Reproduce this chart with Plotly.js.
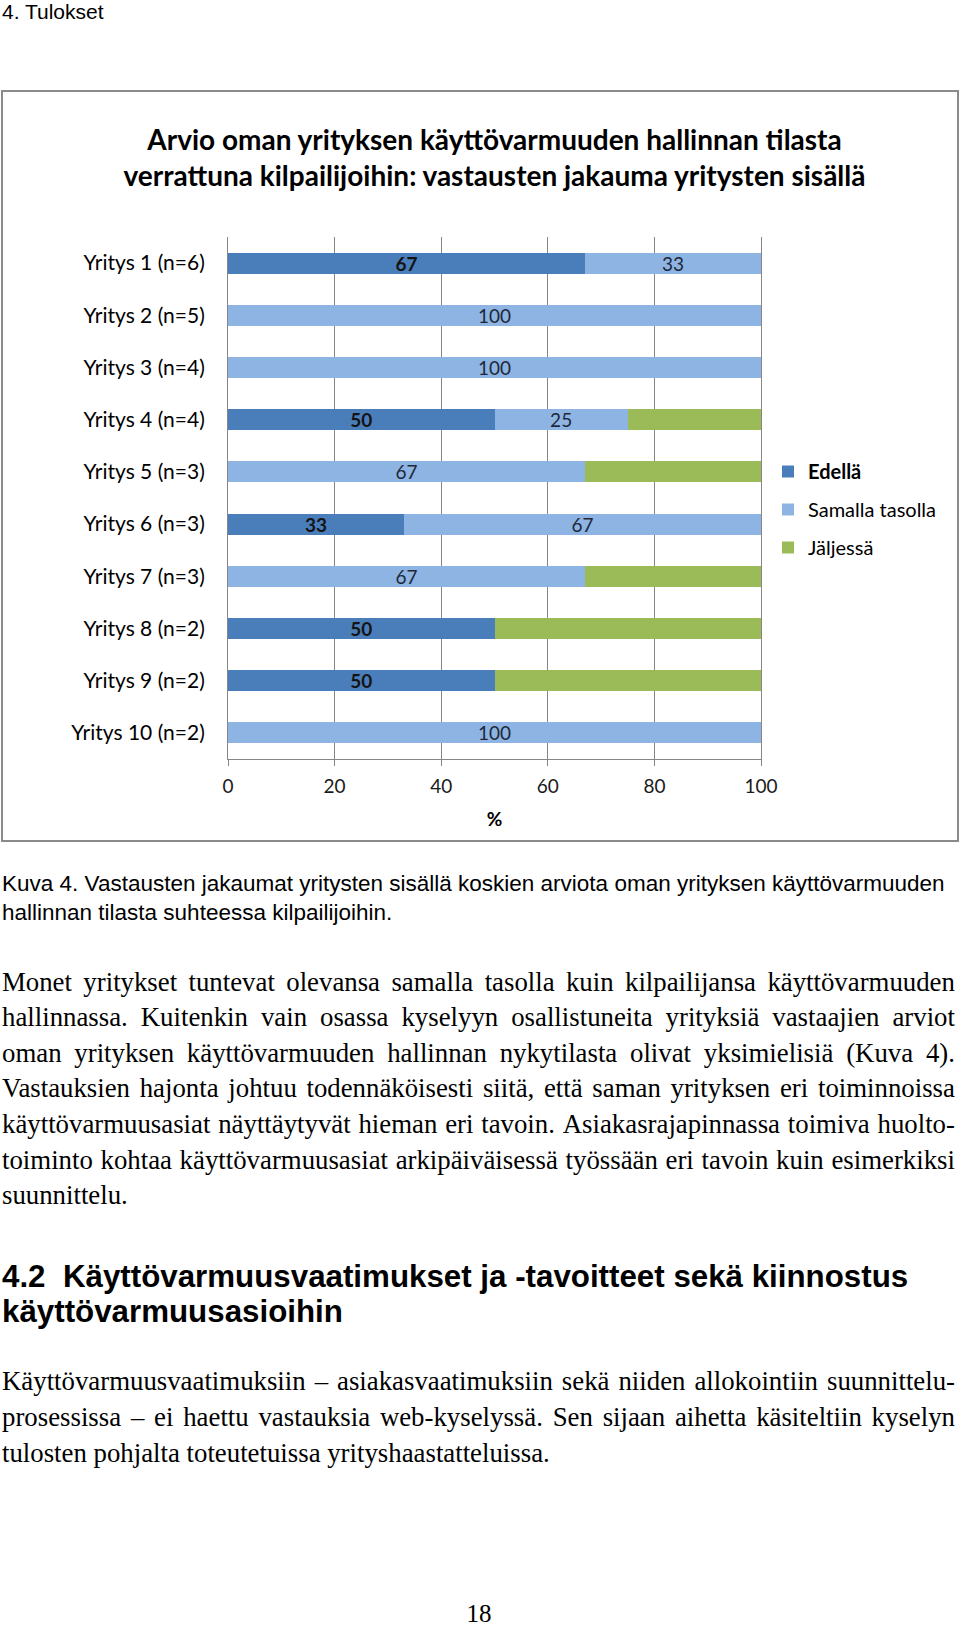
<!DOCTYPE html>
<html>
<head>
<meta charset="utf-8">
<script src="https://cdn.plot.ly/plotly-3.0.1.min.js"></script>
<style>
  html, body { margin: 0; padding: 0; background: #fff; }
  body { width: 960px; height: 1627px; position: relative; overflow: hidden; }
  .abs { position: absolute; white-space: nowrap; color: #000; }
  .sans { font-family: "Liberation Sans", Arial, sans-serif; }
  .serif { font-family: "Liberation Serif", "Times New Roman", serif; }
  .jl { display: flex; justify-content: space-between; width: 953px; }
</style>
</head>
<body>
<div id="chart" style="position:absolute;left:0;top:0;width:960px;height:860px;"></div>
<div id="frame" style="position:absolute;left:1px;top:90px;width:954px;height:748px;border:2px solid #8a8a8a;pointer-events:none;"></div>
<div id="doc"></div>
<script>
// ---- chart data ----
const companies = ['Yritys 1 (n=6)', 'Yritys 2 (n=5)', 'Yritys 3 (n=4)', 'Yritys 4 (n=4)', 'Yritys 5 (n=3)',
                   'Yritys 6 (n=3)', 'Yritys 7 (n=3)', 'Yritys 8 (n=2)', 'Yritys 9 (n=2)', 'Yritys 10 (n=2)'];
const seriesNames = ['Edellä', 'Samalla tasolla', 'Jäljessä'];
const edella   = [67, 0, 0, 50, 0, 33, 0, 50, 50, 0];
const samalla  = [33, 100, 100, 25, 67, 67, 67, 0, 0, 100];
const jaljessa = [0, 0, 0, 25, 33, 0, 33, 50, 50, 0];
const xTicks = [0, 20, 40, 60, 80, 100];
const chartTitle = ['Arvio oman yrityksen käyttövarmuuden hallinnan tilasta',
                    'verrattuna kilpailijoihin: vastausten jakauma yritysten sisällä'];
const xTitle = '%';

// ---- document text ----
const pageHeader = '4. Tulokset';
const captionLines = ['Kuva 4. Vastausten jakaumat yritysten sisällä koskien arviota oman yrityksen käyttövarmuuden',
                      'hallinnan tilasta suhteessa kilpailijoihin.'];
const para1 = ['Monet yritykset tuntevat olevansa samalla tasolla kuin kilpailijansa käyttövarmuuden',
               'hallinnassa. Kuitenkin vain osassa kyselyyn osallistuneita yrityksiä vastaajien arviot',
               'oman yrityksen käyttövarmuuden hallinnan nykytilasta olivat yksimielisiä (Kuva 4).',
               'Vastauksien hajonta johtuu todennäköisesti siitä, että saman yrityksen eri toiminnoissa',
               'käyttövarmuusasiat näyttäytyvät hieman eri tavoin. Asiakasrajapinnassa toimiva huolto-',
               'toiminto kohtaa käyttövarmuusasiat arkipäiväisessä työssään eri tavoin kuin esimerkiksi',
               'suunnittelu.'];
const headingLines = ['4.2\u00a0 Käyttövarmuusvaatimukset ja -tavoitteet sekä kiinnostus',
                      'käyttövarmuusasioihin'];
const para2 = ['Käyttövarmuusvaatimuksiin – asiakasvaatimuksiin sekä niiden allokointiin suunnittelu-',
               'prosessissa – ei haettu vastauksia web-kyselyssä. Sen sijaan aihetta käsiteltiin kyselyn',
               'tulosten pohjalta toteutetuissa yrityshaastatteluissa.'];
const pageNumber = '18';

function lbl(arr) { return arr.map(v => v > 0 ? String(v) : ''); }

const colors = ['#4A7EBB', '#8DB4E2', '#9BBB59'];
const values = [edella, samalla, jaljessa];
const labels = [lbl(edella), lbl(samalla), jaljessa.map(() => '')];
const labelFonts = [
  {family: 'Lato, sans-serif', size: 19, color: '#141414', weight: 'bold'},
  {family: 'Lato, sans-serif', size: 19, color: '#1e2838'},
  {family: 'Lato, sans-serif', size: 19, color: '#1e2838'}
];
const legendNames = ['<b>' + seriesNames[0] + '</b>', seriesNames[1], seriesNames[2]];

const traces = values.map((vals, i) => ({
  type: 'bar',
  orientation: 'h',
  name: legendNames[i],
  legendgroup: 'g' + i,
  x: vals,
  y: companies,
  marker: {color: colors[i], line: {width: 0}},
  text: labels[i],
  textposition: 'inside',
  insidetextanchor: 'middle',
  textangle: 0,
  constraintext: 'none',
  textfont: labelFonts[i],
  hoverinfo: 'none'
}));

const layout = {
  width: 960,
  height: 860,
  margin: {l: 228, r: 199, t: 237, b: 101, pad: 0},
  paper_bgcolor: 'rgba(0,0,0,0)',
  plot_bgcolor: 'rgba(0,0,0,0)',
  font: {family: 'Lato, sans-serif', size: 20, color: '#000'},
  barmode: 'stack',
  bargap: 0.6,
  showlegend: true,
  title: {
    text: '<b>' + chartTitle[0] + '</b><br><b>' + chartTitle[1] + '</b>',
    font: {family: 'Lato, sans-serif', size: 28, color: '#000'},
    x: 0.5, xref: 'paper', xanchor: 'center',
    y: 1 - 150 / 860, yref: 'container', yanchor: 'top'
  },
  xaxis: {
    range: [0, 100],
    tickvals: xTicks,
    ticktext: xTicks.map(String),
    showgrid: true, gridcolor: '#868686', gridwidth: 1,
    showline: true, linecolor: '#868686', linewidth: 1,
    zeroline: false,
    ticks: 'outside', ticklen: 6, tickcolor: '#868686', tickwidth: 1,
    ticklabelstandoff: 4,
    tickfont: {family: 'Lato, sans-serif', size: 19, color: '#1a1a1a'},
    title: {text: '<b>' + xTitle + '</b>', standoff: 16, font: {family: 'Lato, sans-serif', size: 19, color: '#000'}},
    fixedrange: true
  },
  yaxis: {
    autorange: 'reversed',
    showline: true, mirror: true, linecolor: '#868686', linewidth: 1,
    showgrid: false, zeroline: false,
    ticks: '',
    ticklabelstandoff: 18,
    tickfont: {family: 'Lato, sans-serif', size: 21, color: '#000'},
    fixedrange: true
  },
  legend: {
    x: (768 - 228) / 533, xanchor: 'left',
    y: (759 - 452) / 522, yanchor: 'top',
    traceorder: 'grouped',
    tracegroupgap: 9,
    font: {family: 'Lato, sans-serif', size: 20, color: '#000'},
    bgcolor: 'rgba(0,0,0,0)'
  }
};

Plotly.newPlot('chart', traces, layout, {displayModeBar: false, staticPlot: true});

// ---- document text layout ----
const doc = document.getElementById('doc');
function addLine(text, cls, left, top, size, lh, weight, justify) {
  const d = document.createElement('div');
  d.className = 'abs ' + cls + (justify ? ' jl' : '');
  d.style.left = left + 'px';
  d.style.top = top + 'px';
  d.style.fontSize = size + 'px';
  d.style.lineHeight = lh + 'px';
  if (weight) d.style.fontWeight = weight;
  if (justify) {
    text.split(' ').forEach(w => {
      const s = document.createElement('span');
      s.textContent = w;
      d.appendChild(s);
    });
  } else {
    d.textContent = text;
  }
  doc.appendChild(d);
  return d;
}
// baseline -> top: top = baseline - lh/2 - k*size
function topFor(baseline, lh, size, k) { return baseline - lh / 2 - k * size; }

addLine(pageHeader, 'sans', 2, topFor(18.5, 21, 21, 0.3465), 21, 21);
captionLines.forEach((t, i) => addLine(t, 'sans', 2, topFor(891 + 29 * i, 29, 22.5, 0.3465), 22.5, 29));
para1.forEach((t, i) => addLine(t, 'serif', 2, topFor(991.5 + 35.6 * i, 35.6, 26.8, 0.3375), 26.8, 35.6, null, i < para1.length - 1));
headingLines.forEach((t, i) => addLine(t, 'sans', 2, topFor(1287 + 35 * i, 35, 31.3, 0.3465), 31.3, 35, 'bold'));
para2.forEach((t, i) => addLine(t, 'serif', 2, topFor(1390.5 + 36 * i, 36, 26.8, 0.3375), 26.8, 36, null, i < para2.length - 1));
const pn = addLine(pageNumber, 'serif', 0, topFor(1622, 30, 25, 0.3375), 25, 30);
pn.style.width = '958px';
pn.style.textAlign = 'center';
</script>
</body>
</html>
